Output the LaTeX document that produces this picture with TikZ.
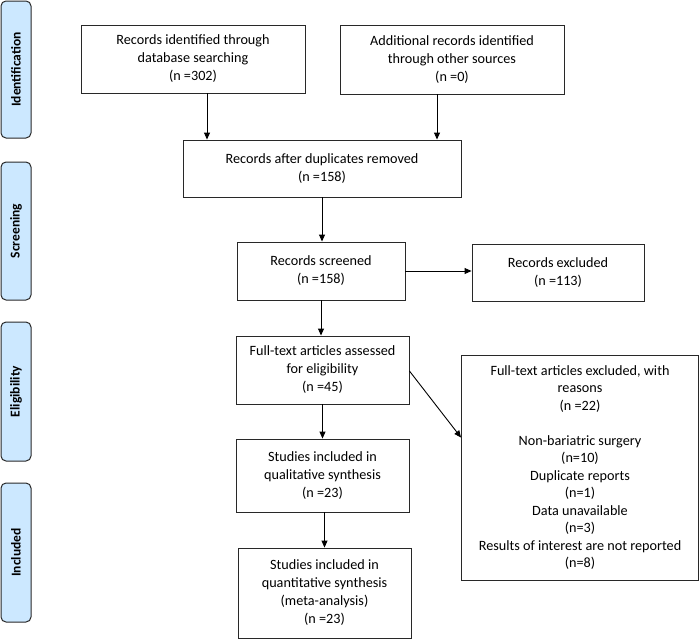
\documentclass[tikz,border=0pt]{standalone}
\usepackage{fontspec}
\setmainfont{Carlito}
\usetikzlibrary{arrows.meta,positioning}
\definecolor{sidefill}{RGB}{204,232,255}
\definecolor{linec}{RGB}{40,40,40}
\tikzset{
  box/.style={draw=linec, line width=0.9pt, rectangle, align=center, inner sep=2pt,
    font=\fontsize{14.2}{18}\selectfont},
  side/.style={draw=linec, line width=1pt, fill=sidefill, rounded corners=5pt,
    minimum width=30pt},
  sidetext/.style={rotate=90, font=\bfseries\fontsize{13.5}{16}\selectfont},
  arr/.style={draw=black, line width=0.9pt, -{Triangle[length=7pt,width=6pt]}}
}
\begin{document}
\begin{tikzpicture}[x=1pt,y=-1pt]
\useasboundingbox (0,0) rectangle (700,640);
% side labels
\node[side, minimum height=137pt] (sid) at (16,69.5) {};
\node[sidetext] (tid) at (sid.center) {Identification};
\node[side, minimum height=138pt] (ssc) at (16,231) {};
\node[sidetext] (tsc) at (ssc.center) {Screening};
\node[side, minimum height=139pt] (sel) at (16,391.5) {};
\node[sidetext] (tel) at (sel.center) {Eligibility};
\node[side, minimum height=139pt] (sin) at (16,552.5) {};
\node[sidetext] (tin) at (sin.center) {Included};
% boxes
\node[box, minimum width=224pt, minimum height=68pt] (b1) at (193,59) {Records identified through\\database searching\\(n =302)};
\node[box, minimum width=224pt, minimum height=69pt] (b2) at (452,59.5) {Additional records identified\\through other sources\\(n =0)};
\node[box, minimum width=278pt, minimum height=57pt] (b3) at (322,168.5) {Records after duplicates removed\\(n =158)};
\node[box, minimum width=168pt, minimum height=58pt] (b4) at (321,271) {Records screened\\(n =158)};
\node[box, minimum width=172pt, minimum height=57pt] (b5) at (558,272.5) {Records excluded\\(n =113)};
\node[box, minimum width=173pt, minimum height=68pt] (b6) at (322.5,370) {Full-text articles assessed\\for eligibility\\(n =45)};
\node[box, minimum width=173pt, minimum height=73pt] (b7) at (322.5,475.5) {Studies included in\\qualitative synthesis\\(n =23)};
\node[box, minimum width=173pt, minimum height=90pt] (b8) at (324.5,593) {Studies included in\\quantitative synthesis\\(meta-analysis)\\(n =23)};
\node[box, minimum width=237pt, minimum height=225pt, font=\fontsize{14.2}{17.5}\selectfont] (b9) at (580,467.5) {Full-text articles excluded, with\\reasons\\(n =22)\\[17.5pt]Non-bariatric surgery\\(n=10)\\Duplicate reports\\(n=1)\\Data unavailable\\(n=3)\\Results of interest are not reported\\(n=8)};
% connectors
\coordinate (a1) at (207,0);
\coordinate (a2) at (437,0);
\draw[arr] (b1.south -| a1) -- (b3.north -| a1);
\draw[arr] (b2.south -| a2) -- (b3.north -| a2);
\draw[arr] (b3.south) -- (b3.south |- b4.north);
\draw[arr] (b4.east) -- (b4.east -| b5.west);
\draw[arr] (b4.south) -- (b4.south |- b6.north);
\draw[arr] (b6.south) -- (b6.south |- b7.north);
\draw[arr] ([xshift=2pt]b7.south) -- ([xshift=2pt]b7.south |- b8.north);
\draw[arr] ([yshift=-1pt]b6.east) -- ([yshift=-83pt]b9.north west);
\end{tikzpicture}
\end{document}
